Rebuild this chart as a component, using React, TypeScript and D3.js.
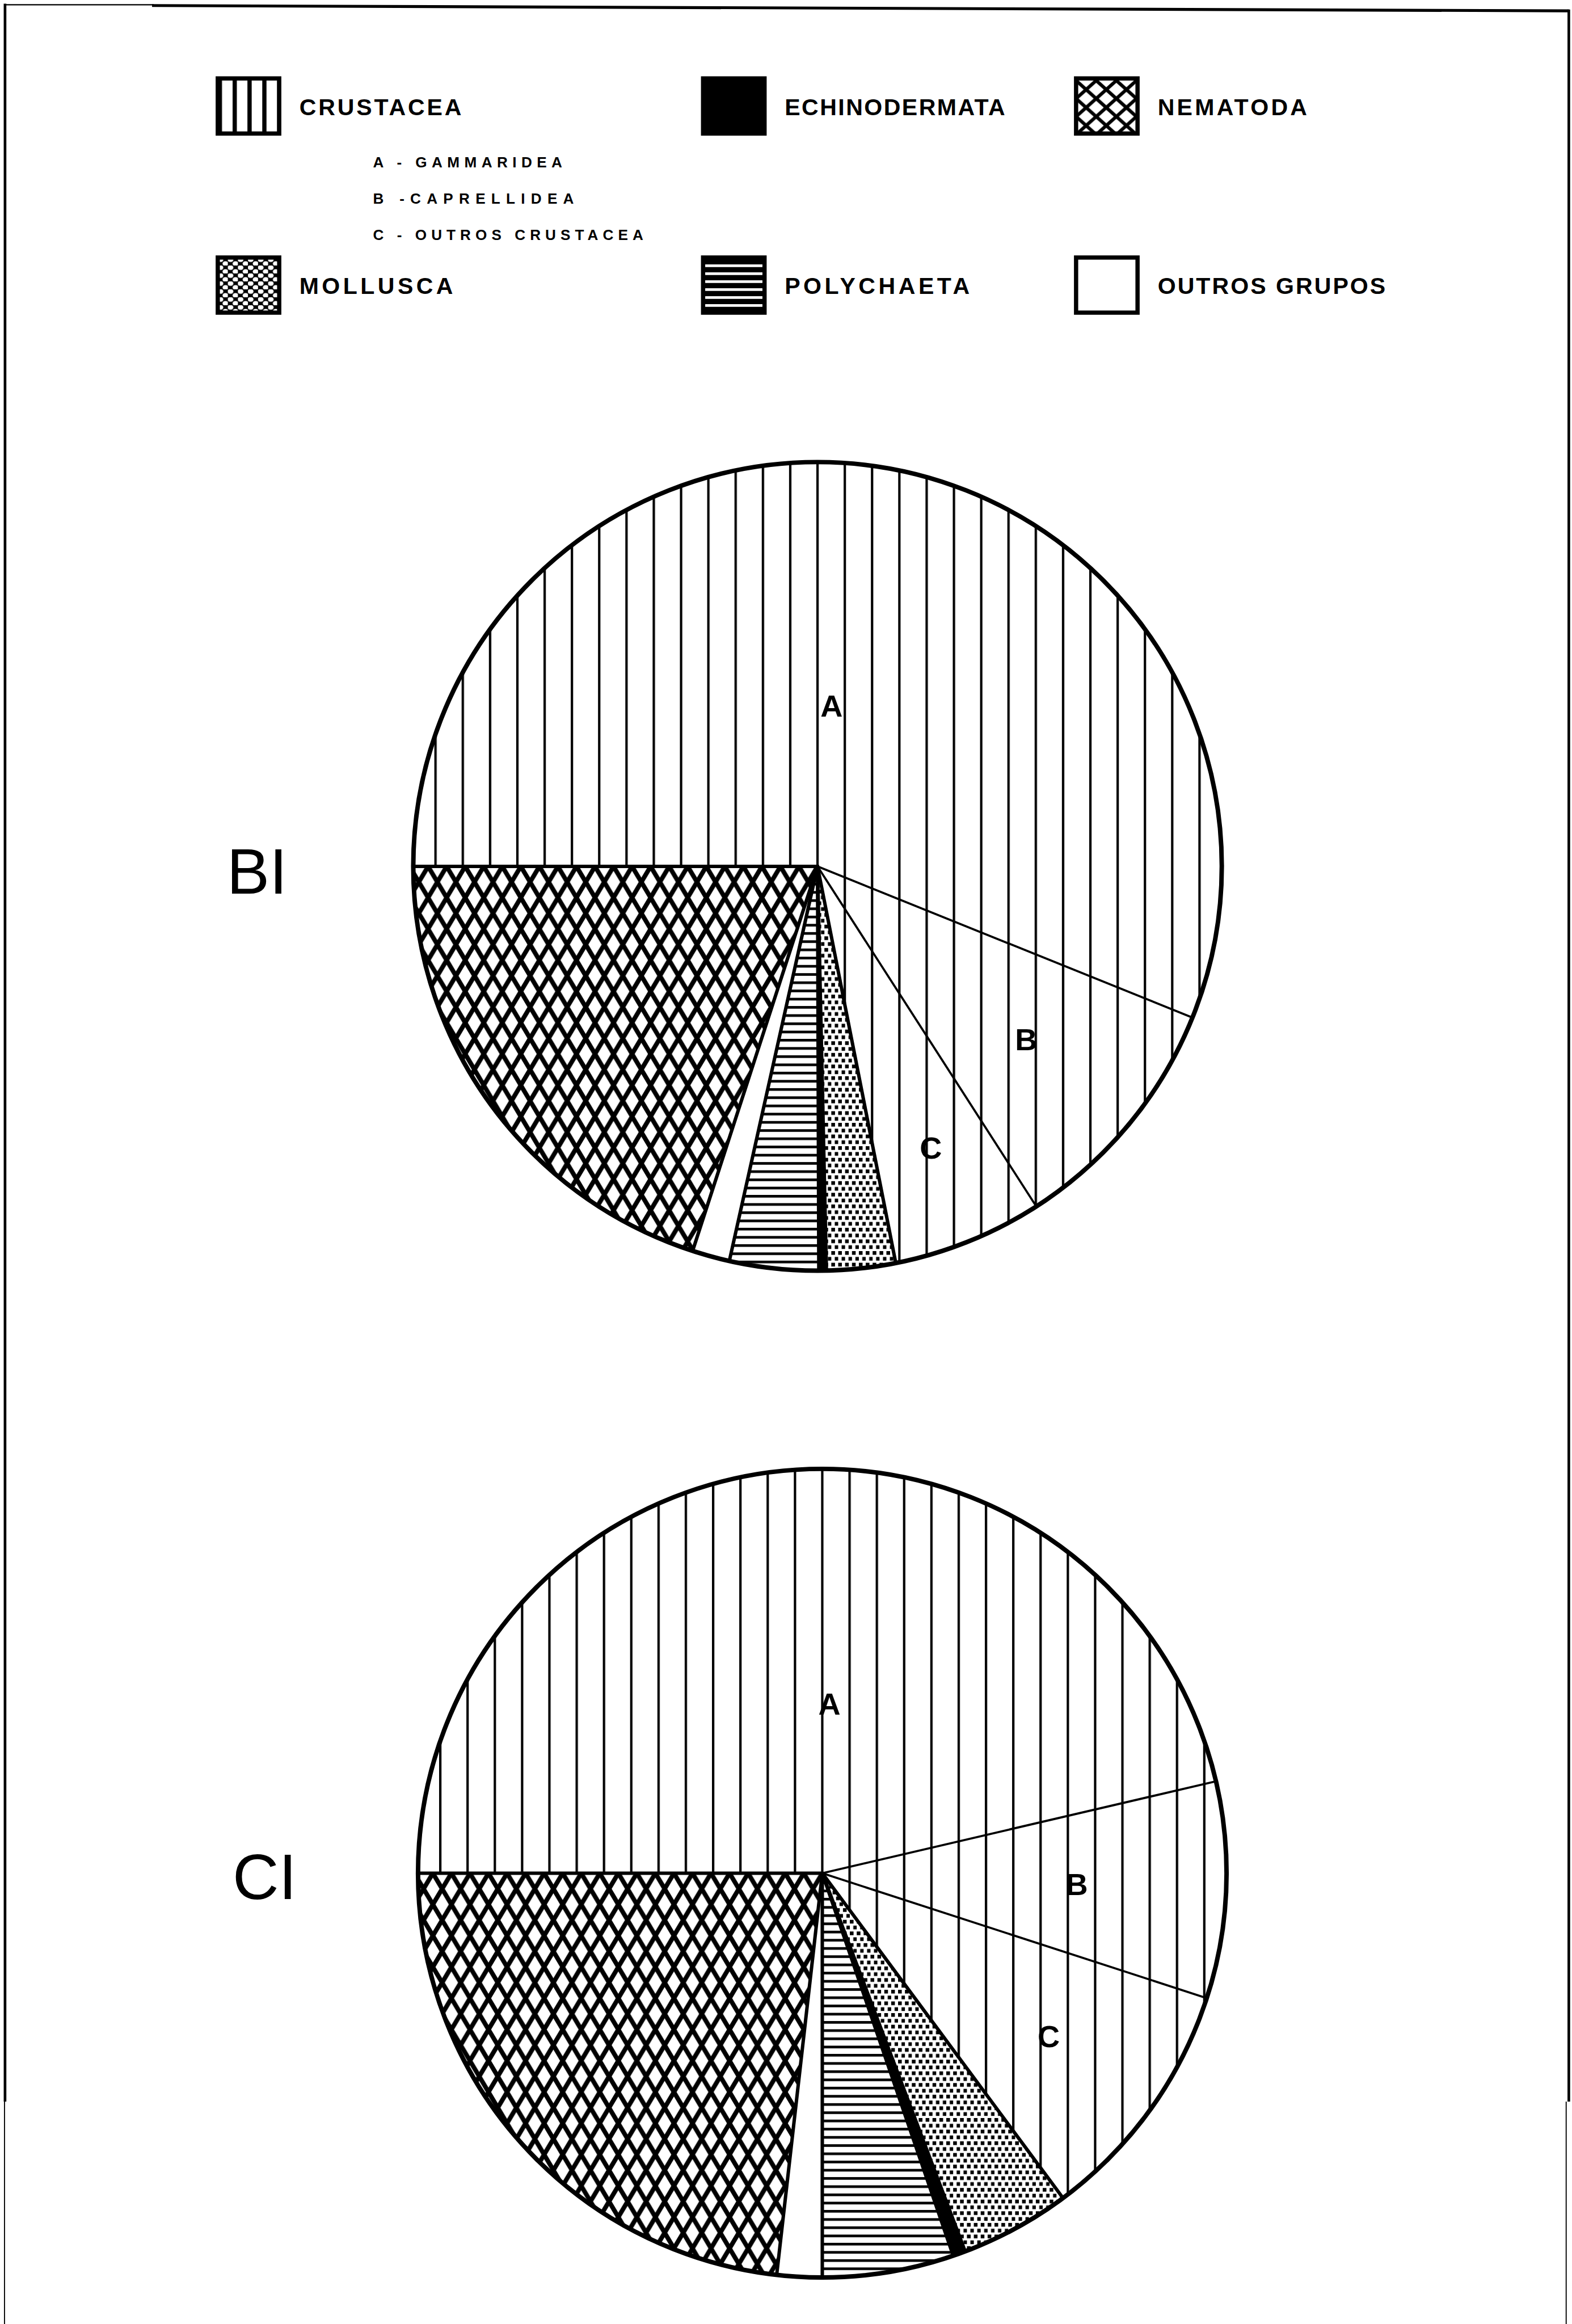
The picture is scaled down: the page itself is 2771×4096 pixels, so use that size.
import React from "react";
import * as d3 from "d3";

const W = 2771;
const H = 4096;
const k = W / 2967; // reference pixels -> window pixels

// slices in drawing order, clockwise from 9 o'clock
const groups = ["Gammaridea", "Caprellidea", "Outros Crustacea", "Mollusca", "Echinodermata", "Polychaeta", "Outros grupos", "Nematoda"];
const groupFill = ["crus", "crus", "crus", "moll", "echi", "poly", "outros", "nema"];
const sliceLetters = ["A", "B", "C", "", "", "", "", ""];

// percentages
const b1Values = [56.1, 9.8, 6.0, 2.75, 0.3, 3.55, 1.5, 20.0];
const c1Values = [46.35, 8.65, 9.85, 4.4, 0.5, 5.25, 1.8, 23.2];
const stations = ["BI", "CI"];

// legend
const legendNames = ["CRUSTACEA", "ECHINODERMATA", "NEMATODA", "MOLLUSCA", "POLYCHAETA", "OUTROS GRUPOS"];
const legendFill = ["crusL", "echi", "nemaL", "mollL", "polyL", "outros"];
const subLegend = ["A - GAMMARIDEA", "B -CAPRELLIDEA", "C - OUTROS CRUSTACEA"];

// layout (reference pixels)
const R = 763;
const pieLayout = [
  { cx: 1543, cy: 1635, sx: 428, sy: 1686 },
  { cx: 1552, cy: 3535, sx: 439, sy: 3584 },
];
const letterRadius = [[0.4, 0.67, 0.75], [0.42, 0.63, 0.69]];
const letterNudge = [[-6, 0, 0], [9, 0, 0]]; // degrees
const legendCols = [411, 1327, 2031];
const legendRows = [148, 486];
const legendTextW = [306, 416, 282, 290, 349, 430];
const subTextW = [357, 379, 510];

const fillOf = (key: string) =>
  key === "echi" ? "#000" : key === "outros" ? "#fff" : `url(#${key})`;

export default function App() {
  const pie = d3.pie<number>()
    .sort(null)
    .value(d => d)
    .startAngle(-Math.PI / 2)
    .endAngle(Math.PI * 1.5);
  const arc = d3.arc<d3.PieArcDatum<number>>().innerRadius(0).outerRadius(R);
  const series = [b1Values, c1Values];
  const font = "'Liberation Sans', Arial, sans-serif";

  return (
    <svg width={W} height={H} style={{ position: "absolute", left: 0, top: 0, background: "#fff" }} fontFamily={font}>
      <defs>
        {/* pie patterns */}
        <pattern id="crus" patternUnits="userSpaceOnUse" x={-2.25} y={0} width={51.5} height={100}>
          <rect width={51.5} height={100} fill="#fff" />
          <rect width={4.5} height={100} fill="#000" />
        </pattern>
        <pattern id="nema" patternUnits="userSpaceOnUse" width={35} height={59}>
          <rect width={35} height={59} fill="#fff" />
          <path d="M-35,-59L70,118M70,-59L-35,118" stroke="#000" strokeWidth={8.5} />
        </pattern>
        <pattern id="moll" patternUnits="userSpaceOnUse" width={13} height={22}>
          <rect width={13} height={22} fill="#fff" />
          <rect x={0} y={0} width={7} height={7} fill="#000" />
          <rect x={6.5} y={11} width={7} height={7} fill="#000" />
        </pattern>
        <pattern id="poly" patternUnits="userSpaceOnUse" width={100} height={15.5}>
          <rect width={100} height={15.5} fill="#fff" />
          <rect width={100} height={5} fill="#000" />
        </pattern>
        {/* legend patterns, coarser */}
        <pattern id="crusL" patternUnits="userSpaceOnUse" x={411} width={28} height={100}>
          <rect width={28} height={100} fill="#fff" />
          <rect width={8} height={100} fill="#000" />
        </pattern>
        <pattern id="nemaL" patternUnits="userSpaceOnUse" x={2031} y={152} width={38} height={34}>
          <rect width={38} height={34} fill="#fff" />
          <path d="M-38,-34L76,68M76,-34L-38,68" stroke="#000" strokeWidth={6.5} />
        </pattern>
        <pattern id="mollL" patternUnits="userSpaceOnUse" x={411} y={486} width={19} height={15}>
          <rect width={19} height={15} fill="#000" />
          <ellipse cx={5} cy={4} rx={5.5} ry={4.5} fill="#fff" />
          <ellipse cx={14.5} cy={11.5} rx={5.5} ry={4.5} fill="#fff" />
        </pattern>
        <pattern id="polyL" patternUnits="userSpaceOnUse" x={1327} y={494} width={100} height={15}>
          <rect width={100} height={15} fill="#000" />
          <rect y={5} width={100} height={5} fill="#fff" />
        </pattern>
      </defs>

      <g transform={`scale(${k})`}>
        {/* page frame */}
        <g stroke="#000" fill="none">
          <line x1={9} y1={9} x2={290} y2={9} strokeWidth={2.5} />
          <line x1={287} y1={10.5} x2={2961} y2={20.5} strokeWidth={5.5} />
          <line x1={9.5} y1={7} x2={9.5} y2={3966} strokeWidth={5} />
          <line x1={8.5} y1={3966} x2={8.5} y2={4386} strokeWidth={2} />
          <line x1={2961} y1={18} x2={2961} y2={3966} strokeWidth={5} />
          <line x1={2956} y1={3966} x2={2956} y2={4386} strokeWidth={2} />
        </g>

        {/* legend */}
        {legendNames.map((name, i) => {
          const x = legendCols[i % 3];
          const y = legendRows[Math.floor(i / 3)];
          return (
            <g key={name}>
              <rect x={x} y={y} width={116} height={104} fill={fillOf(legendFill[i])} stroke="#000" strokeWidth={8} />
              <text x={x + 154} y={y + 69} fontSize={44} fontWeight={700} textLength={legendTextW[i]} lengthAdjust="spacing">
                {name}
              </text>
            </g>
          );
        })}
        {subLegend.map((t, i) => (
          <text key={t} x={704} y={316 + i * 68.5} fontSize={28} fontWeight={700} textLength={subTextW[i]} lengthAdjust="spacing">
            {t}
          </text>
        ))}

        {/* pies */}
        {series.map((values, p) => {
          const { cx, cy, sx, sy } = pieLayout[p];
          const arcs = pie(values);
          const n = arcs.length;
          return (
            <g key={stations[p]}>
              <text x={sx} y={sy} fontSize={121}>{stations[p]}</text>
              <g transform={`translate(${cx},${cy})`}>
                {arcs.map((a, i) => (
                  <path key={groups[i]} d={arc(a) || ""} fill={fillOf(groupFill[i])} />
                ))}
                {arcs.map((a, i) => {
                  const prev = (i - 1 + n) % n;
                  const thin = groupFill[i] === "crus" && groupFill[prev] === "crus";
                  const ang = a.startAngle;
                  return (
                    <line key={"b" + i} x1={0} y1={0} x2={R * Math.sin(ang)} y2={-R * Math.cos(ang)}
                      stroke="#000" strokeWidth={thin ? 4 : 6.5} strokeLinecap="round" />
                  );
                })}
                <circle r={R} fill="none" stroke="#000" strokeWidth={8.5} />
                {arcs.map((a, i) => {
                  if (!sliceLetters[i]) return null;
                  const mid = (a.startAngle + a.endAngle) / 2 + (letterNudge[p][i] * Math.PI) / 180;
                  const r = letterRadius[p][i] * R;
                  return (
                    <text key={"l" + i} x={r * Math.sin(mid)} y={-r * Math.cos(mid)} dy="0.36em"
                      textAnchor="middle" fontSize={58} fontWeight={700}>
                      {sliceLetters[i]}
                    </text>
                  );
                })}
              </g>
            </g>
          );
        })}
      </g>
    </svg>
  );
}
